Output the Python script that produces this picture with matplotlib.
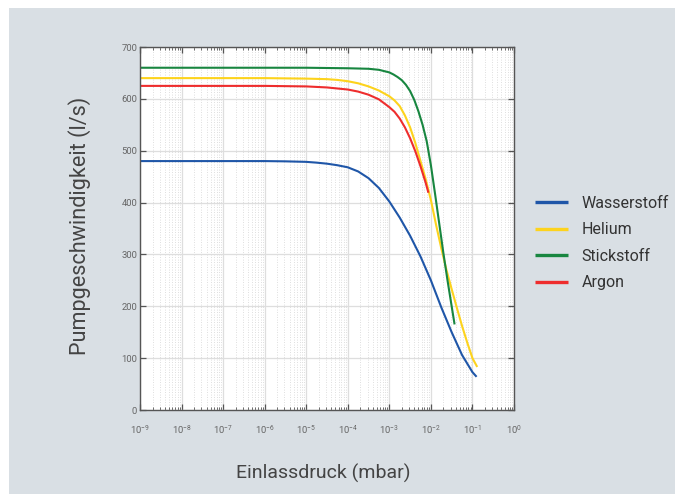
import matplotlib.pyplot as plt
from matplotlib.patches import Rectangle
from matplotlib.ticker import LogLocator, NullFormatter, MultipleLocator

plt.rcParams['font.family'] = ['Roboto', 'DejaVu Sans']

# Saugvermoegen je Gas ueber dem Einlassdruck, Exponenten von p in mbar
lg_h2 = [-9, -7, -6, -5.5, -5, -4.75, -4.5, -4.25, -4, -3.75, -3.5, -3.25, -3, -2.75,
         -2.5, -2.25, -2, -1.75, -1.5, -1.25, -1, -0.9]
s_h2 = [480, 480, 480, 479.5, 478.5, 477, 475, 472, 468, 460, 447, 428, 402, 371,
        336, 296, 250, 198, 150, 106, 73, 64]

lg_he = [-9, -7, -6, -5.5, -5, -4.5, -4.25, -4, -3.75, -3.5, -3.25, -3, -2.875, -2.75,
         -2.625, -2.5, -2.375, -2.25, -2.125, -2, -1.875, -1.75, -1.625, -1.5, -1.375,
         -1.25, -1.125, -1, -0.885]
s_he = [640, 640, 640, 639.5, 639, 638, 636.5, 634, 630, 624, 616, 605, 597, 586,
        568, 545, 515, 480, 445, 405, 357, 312, 270, 233, 197,
        162, 130, 100, 83]

lg_n2 = [-9, -6, -5, -4.5, -4, -3.5, -3.25, -3, -2.9, -2.8, -2.7, -2.6, -2.5, -2.4,
         -2.3, -2.2, -2.1, -2, -1.9, -1.8, -1.7, -1.6, -1.5, -1.43]
s_n2 = [660, 660, 660, 659.5, 659, 658, 656, 651, 647, 642, 636, 627, 615, 598,
        576, 550, 518, 472, 417, 360, 303, 250, 200, 165]

lg_ar = [-9, -7, -6, -5, -4.5, -4.25, -4, -3.75, -3.5, -3.25, -3, -2.875, -2.75,
         -2.625, -2.5, -2.375, -2.25, -2.125, -2.06]
s_ar = [625, 625, 625, 624, 622, 620, 618, 614, 608, 599, 584, 575, 562,
        545, 524, 499, 470, 438, 419]

labels = ['Wasserstoff', 'Helium', 'Stickstoff', 'Argon']
colors = ['#1f56a8', '#fdd31d', '#188640', '#ee2d2d']

fig = plt.figure(figsize=(6.75, 4.94), dpi=100, facecolor='white')
fig.patches.append(Rectangle((9 / 675, 0), 1, 486 / 494, transform=fig.transFigure,
                             facecolor='#d9dfe4', edgecolor='none', zorder=-10))

ax = fig.add_axes([140 / 675, 1 - 410 / 494, 374 / 675, 363 / 494])
ax.set_facecolor('white')

for lg, s, lab, c in zip([lg_h2, lg_he, lg_n2, lg_ar], [s_h2, s_he, s_n2, s_ar], labels, colors):
    ax.plot([10.0 ** e for e in lg], s, color=c, lw=1.5, label=lab,
            solid_joinstyle='round', solid_capstyle='butt')

ax.set_xscale('log')
ax.set_xlim(1e-9, 1)
ax.set_ylim(0, 700)
ax.xaxis.set_major_locator(LogLocator(base=10, numticks=20))
ax.xaxis.set_minor_locator(LogLocator(base=10, subs=range(2, 10), numticks=20))
ax.xaxis.set_minor_formatter(NullFormatter())
ax.yaxis.set_major_locator(MultipleLocator(100))

ax.grid(which='major', color='#dedede', lw=0.9, ls='-')
ax.grid(which='minor', axis='x', color='#d4d4d4', lw=0.6, ls=(0, (1, 2)))
ax.set_axisbelow(True)

for sp in ax.spines.values():
    sp.set_color('#555555')
    sp.set_linewidth(1.0)

ax.tick_params(which='both', direction='in', top=True, right=True, colors='#555555',
               labelcolor='#666666', labelsize=6.8)
ax.tick_params(which='major', length=4, width=0.9)
ax.tick_params(which='minor', length=2.5, width=0.6)
ax.tick_params(axis='x', which='major', pad=10)
ax.tick_params(axis='y', which='major', pad=2)

fig.text(80 / 675, 1 - 226 / 494, 'Pumpgeschwindigkeit (l/s)', rotation=90,
         ha='center', va='center', fontsize=15.6, color='#444444')
fig.text(323 / 675, 1 - 473 / 494, 'Einlassdruck (mbar)', ha='center', va='center',
         fontsize=14, color='#444444')

leg = fig.legend(loc='center left', bbox_to_anchor=(521 / 675, 1 - 243 / 494),
                 frameon=False, fontsize=11.5, handlelength=2.05, handletextpad=0.85,
                 labelspacing=0.72)
for line in leg.get_lines():
    line.set_linewidth(2.4)
for t in leg.get_texts():
    t.set_color('#333333')

fig.savefig('out.png', dpi=100, facecolor=fig.get_facecolor())
